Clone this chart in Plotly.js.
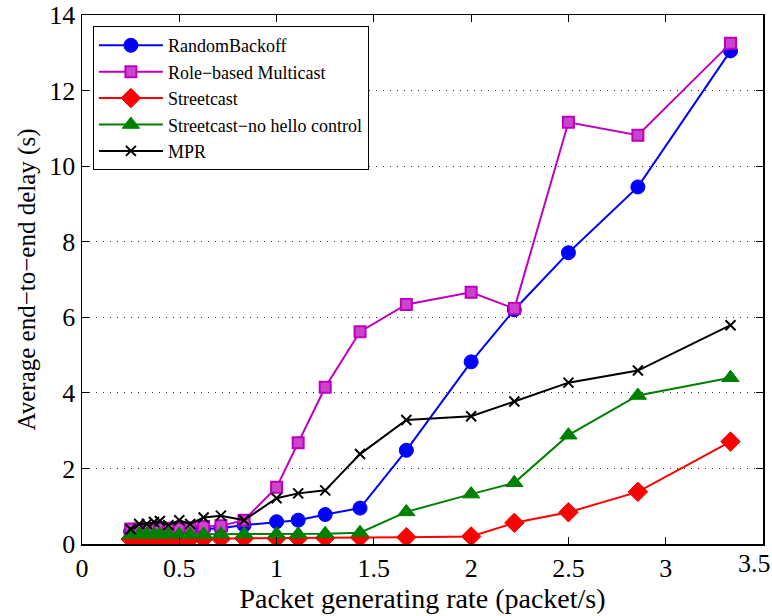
<!DOCTYPE html>
<html>
<head>
<meta charset="utf-8">
<script src="https://cdn.plot.ly/plotly-3.0.1.min.js"></script>
<style>html,body{margin:0;padding:0;background:#fff;}#chart{width:772px;height:616px;}</style>
</head>
<body>
<div id="chart"></div>
<script>
const xRate = [0.25, 0.294, 0.333, 0.37, 0.4, 0.444, 0.5, 0.556, 0.625, 0.714, 0.833, 1.0, 1.111, 1.25, 1.429, 1.667, 2.0, 2.222, 2.5, 2.857, 3.333];
const randomBackoff = [0.33, 0.35, 0.36, 0.37, 0.36, 0.38, 0.37, 0.38, 0.4, 0.42, 0.5, 0.59, 0.63, 0.78, 0.95, 2.48, 4.82, 6.2, 7.71, 9.45, 13.05];
const roleBased = [0.4, 0.4, 0.41, 0.41, 0.41, 0.42, 0.42, 0.43, 0.46, 0.48, 0.63, 1.5, 2.68, 4.15, 5.62, 6.34, 6.66, 6.23, 11.16, 10.82, 13.25];
const streetcast = [0.13, 0.13, 0.13, 0.13, 0.13, 0.13, 0.13, 0.14, 0.14, 0.14, 0.15, 0.15, 0.15, 0.16, 0.17, 0.18, 0.2, 0.56, 0.84, 1.38, 2.71];
const noHello = [0.25, 0.25, 0.25, 0.25, 0.25, 0.25, 0.25, 0.25, 0.25, 0.26, 0.26, 0.26, 0.26, 0.27, 0.3, 0.85, 1.32, 1.62, 2.88, 3.93, 4.4];
const mpr = [0.39, 0.53, 0.53, 0.58, 0.61, 0.5, 0.63, 0.53, 0.7, 0.75, 0.63, 1.21, 1.34, 1.42, 2.38, 3.28, 3.38, 3.77, 4.27, 4.59, 5.79];
const seriesNames = ["RandomBackoff", "Role\u2212based Multicast", "Streetcast", "Streetcast\u2212no hello control", "MPR"];
const xTicks = [0, 0.5, 1, 1.5, 2, 2.5, 3, 3.5];
const yTicks = [0, 2, 4, 6, 8, 10, 12, 14];

const FONT = "Liberation Serif";
const lastX = xTicks[xTicks.length - 1];

const traces = [
  {x: xRate, y: randomBackoff, name: seriesNames[0], mode: "lines+markers",
   line: {color: "#0000ff", width: 2},
   marker: {symbol: "circle", size: 14, color: "#0000ff", line: {color: "#0000ff", width: 1}}},
  {x: xRate, y: roleBased, name: seriesNames[1], mode: "lines+markers",
   line: {color: "#bf00bf", width: 2},
   marker: {symbol: "square", size: 11, color: "#cc44cc", line: {color: "#bf00bf", width: 2}}},
  {x: xRate, y: streetcast, name: seriesNames[2], mode: "lines+markers",
   line: {color: "#ff0000", width: 2},
   marker: {symbol: "diamond", size: 15, color: "#ff0000", line: {color: "#ff0000", width: 1}}},
  {x: xRate, y: noHello, name: seriesNames[3], mode: "lines+markers",
   line: {color: "#008000", width: 2},
   marker: {symbol: "triangle-up", size: 15, color: "#008000", line: {color: "#008000", width: 1}}},
  {x: xRate, y: mpr, name: seriesNames[4], mode: "lines+markers",
   line: {color: "#000000", width: 2},
   marker: {symbol: "x-thin", size: 10, color: "#000000", line: {color: "#000000", width: 2}}}
];

const layout = {
  width: 772, height: 616,
  margin: {l: 82, r: 9, t: 15, b: 72},
  paper_bgcolor: "#ffffff", plot_bgcolor: "#ffffff",
  font: {family: FONT, size: 22, color: "#000"},
  showlegend: true,
  annotations: [{
    xref: "x", yref: "paper", x: lastX, y: 0, yanchor: "top", xanchor: "center",
    xshift: -9, yshift: -3, text: String(lastX), showarrow: false,
    font: {family: FONT, size: 26, color: "#000"}
  }],
  xaxis: {
    range: [0, 3.5], tickvals: xTicks,
    ticktext: xTicks.map((v, i) => i === xTicks.length - 1 ? "" : String(v)),
    ticks: "inside", ticklen: 7, tickwidth: 1, tickcolor: "#000",
    showline: true, linecolor: "#000", linewidth: 1.5, mirror: "allticks",
    showgrid: false, zeroline: false,
    tickfont: {family: FONT, size: 26, color: "#000"},
    title: {text: "Packet generating rate (packet/s)", font: {family: FONT, size: 28, color: "#000"}, standoff: 2}
  },
  yaxis: {
    range: [0, 14], tickvals: yTicks, ticktext: yTicks.map(String),
    ticks: "inside", ticklen: 7, tickwidth: 1, tickcolor: "#000",
    showline: true, linecolor: "#000", linewidth: 1.5, mirror: "allticks",
    showgrid: true, gridcolor: "#333", gridwidth: 1, griddash: "1px,6px", zeroline: false,
    ticklabeloverflow: "allow",
    tickfont: {family: FONT, size: 26, color: "#000"},
    title: {text: "Average end\u2212to\u2212end delay (s)", font: {family: FONT, size: 25, color: "#000"}, standoff: 6}
  },
  legend: {
    x: 0.016, y: 0.979, xanchor: "left", yanchor: "top",
    bgcolor: "#ffffff", bordercolor: "#000", borderwidth: 1,
    font: {family: FONT, size: 18, color: "#000"},
    itemwidth: 64,
    tracegroupgap: 0
  }
};

Plotly.newPlot("chart", traces, layout, {displayModeBar: false, staticPlot: true});
</script>
</body>
</html>
